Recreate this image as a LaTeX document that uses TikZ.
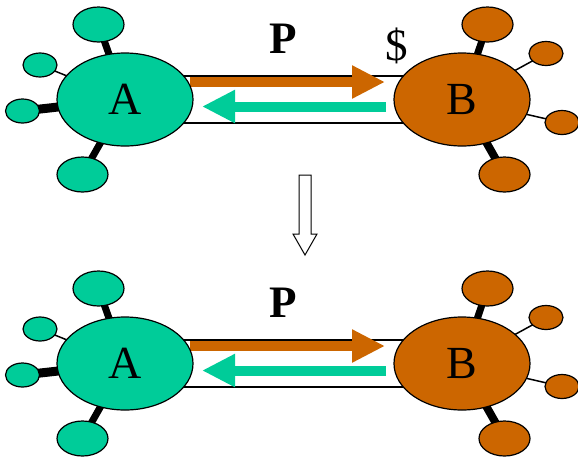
\documentclass[tikz,border=0pt]{standalone}
\usepackage{fontspec}
\setmainfont{Liberation Serif}
\usetikzlibrary{arrows.meta, positioning, shapes.geometric, backgrounds}

\definecolor{agreen}{RGB}{0,204,153}
\definecolor{borange}{RGB}{204,102,0}

\begin{document}
\begin{tikzpicture}[x=1pt, y=-1pt,
  hub/.style={ellipse, draw, line width=1.2pt, minimum width=136pt, minimum height=93pt,
    inner sep=0pt, font=\fontsize{46}{46}\selectfont},
  sat/.style={ellipse, draw, line width=1.2pt, minimum width=51pt, minimum height=35pt, inner sep=0pt},
  small/.style={ellipse, draw, line width=1.2pt, minimum width=34pt, minimum height=24pt, inner sep=0pt},
  band/.style={draw, fill=white, line width=1.2pt, minimum width=337pt, minimum height=47pt, inner sep=0pt},
  flow/.style={line width=10pt, -{Triangle[length=33pt,width=31pt]}},
  label/.style={font=\fontsize{45}{45}\selectfont},
]
\useasboundingbox (0,0) rectangle (578,456);

% before and after: same two parties, shifted down
\foreach \p/\dy in {t/0, b/264} {
\begin{scope}[shift={(0,\dy)}]
  \node[band] (\p-band) at (293.5,99.5) {};

  % goods one way, money the other
  \coordinate (\p-o1) at (190,82);
  \coordinate (\p-o2) at (385,82);
  \coordinate (\p-g1) at (386,106.5);
  \coordinate (\p-g2) at (202,106.5);
  \draw[flow, borange] (\p-o1) -- (\p-o2);
  \draw[flow, agreen] (\p-g1) -- (\p-g2);

  \node[hub, fill=agreen] (\p-A) at (125,99.5) {A};
  \node[hub, fill=borange] (\p-B) at (462,99.5) {B};

  % neighbours of A
  \node[sat, fill=agreen] (\p-a1) at (98.5,24.5) {};
  \node[small, fill=agreen] (\p-a2) at (40,65) {};
  \node[small, fill=agreen] (\p-a3) at (22.5,111) {};
  \node[sat, fill=agreen] (\p-a4) at (82.5,174.5) {};

  % neighbours of B
  \node[sat, fill=borange] (\p-b1) at (487.5,24.5) {};
  \node[small, fill=borange] (\p-b2) at (546,53.5) {};
  \node[small, fill=borange] (\p-b3) at (562,122.5) {};
  \node[sat, fill=borange] (\p-b4) at (504.5,174.5) {};

  \begin{pgfonlayer}{background}
    \draw[line width=7pt] (\p-A.center) -- (\p-a1.center);
    \draw[line width=1.5pt] (\p-A.center) -- (\p-a2.center);
    \draw[line width=9pt] (\p-A.center) -- (\p-a3.center);
    \draw[line width=7pt] (\p-A.center) -- (\p-a4.center);
    \draw[line width=7pt] (\p-B.center) -- (\p-b1.center);
    \draw[line width=1.5pt] (\p-B.center) -- (\p-b2.center);
    \draw[line width=1.5pt] (\p-B.center) -- (\p-b3.center);
    \draw[line width=8pt] (\p-B.center) -- (\p-b4.center);
  \end{pgfonlayer}

  \node[label, font=\bfseries\fontsize{45}{45}\selectfont] (\p-P) at (283,38.5) {P};
\end{scope}
}

\node[label] (dollar) at (397,45.5) {\$};

% hollow arrow between the two states
\draw[line width=1pt, fill=white] (299,175) -- (311,175) -- (311,234) -- (317,234)
  -- (305,255) -- (293,234) -- (299,234) -- cycle;
\end{tikzpicture}
\end{document}
